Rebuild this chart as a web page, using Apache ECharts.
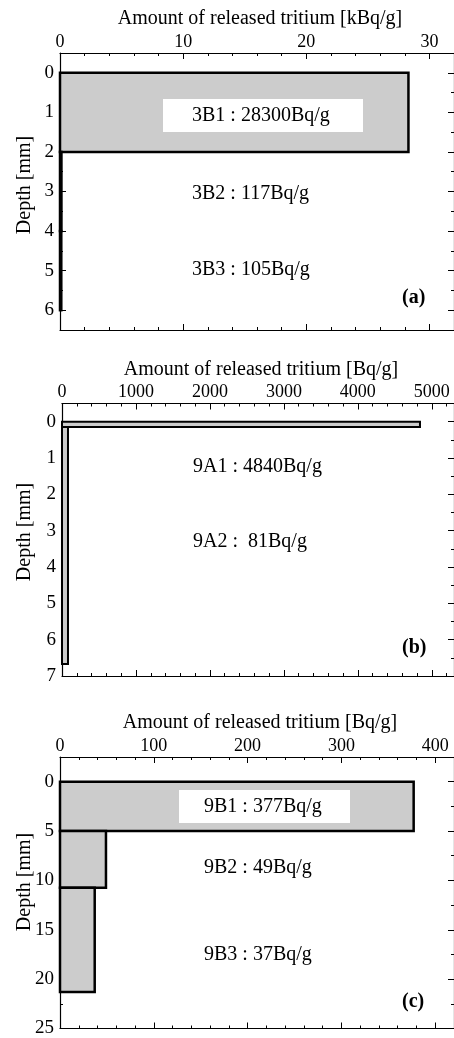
<!DOCTYPE html>
<html>
<head>
<meta charset="utf-8">
<script src="https://cdn.jsdelivr.net/npm/echarts@6/dist/echarts.min.js"></script>
<style>
  html, body { margin: 0; padding: 0; background: #fff; }
  #chart { width: 454px; height: 1038px; }
</style>
</head>
<body>
<div id="chart"></div>
<script>
// ---- Data: released tritium per depth layer ----
// (a) sample 3B, values in kBq/g
const aNames = ['3B1', '3B2', '3B3'];
const aDepthTop = [0, 2, 4];
const aDepthBottom = [2, 4, 6];
const aValues = [28.3, 0.117, 0.105];

// (b) sample 9A, values in Bq/g
const bNames = ['9A1', '9A2'];
const bDepthTop = [0, 0.15];
const bDepthBottom = [0.15, 6.67];
const bValues = [4840, 81];

// (c) sample 9B, values in Bq/g
const cNames = ['9B1', '9B2', '9B3'];
const cDepthTop = [0, 5, 10.75];
const cDepthBottom = [5, 10.75, 21.3];
const cValues = [377, 49, 37];

// Tick values
const aXMajor = [0, 10, 20, 30];
const aXMinor = [2, 4, 6, 8, 12, 14, 16, 18, 22, 24, 26, 28];
const aYMajor = [0, 1, 2, 3, 4, 5, 6];
const aYMinor = [0.5, 1.5, 2.5, 3.5, 4.5, 5.5];

const bXMajor = [0, 1000, 2000, 3000, 4000, 5000];
const bXMinor = [200, 400, 600, 800, 1200, 1400, 1600, 1800, 2200, 2400, 2600, 2800,
                 3200, 3400, 3600, 3800, 4200, 4400, 4600, 4800, 5200];
const bYMajor = [0, 1, 2, 3, 4, 5, 6, 7];
const bYMinor = [0.5, 1.5, 2.5, 3.5, 4.5, 5.5, 6.5];

const cXMajor = [0, 100, 200, 300, 400];
const cXMinor = [20, 40, 60, 80, 120, 140, 160, 180, 220, 240, 260, 280, 320, 340, 360, 380];
const cYMajor = [0, 5, 10, 15, 20, 25];
const cYMinor = [2.5, 7.5, 12.5, 17.5, 22.5];

// ---- Layout & style ----
const FONT = 'Liberation Serif';
const GREY = '#cccccc';

const panels = [
  {
    grid: { left: 60, top: 53, width: 397, height: 277 },
    xRange: [0, 32], yRange: [-0.5, 6.5],
    xMajor: aXMajor, xMinor: aXMinor, yMajor: aYMajor, yMinor: aYMinor,
    xName: 'Amount of released tritium [kBq/g]',
    top: aDepthTop, bottom: aDepthBottom, values: aValues, lw: 2.5,
    labels: aNames.map((n, i) => n + ' : ' + Math.round(aValues[i] * 1000) + 'Bq/g'),
    labelX: 192, labelY: [116, 194, 270],
    box: { x: 163, y: 99, width: 200, height: 33 },
    tag: '(a)', tagY: 298
  },
  {
    grid: { left: 62, top: 403.5, width: 394, height: 272.5 },
    xRange: [0, 5300], yRange: [-0.5, 7],
    xMajor: bXMajor, xMinor: bXMinor, yMajor: bYMajor, yMinor: bYMinor,
    xName: 'Amount of released tritium [Bq/g]',
    top: bDepthTop, bottom: bDepthBottom, values: bValues, lw: 2,
    labels: bNames.map((n, i) => n + ' : ' + (bValues[i] < 100 ? ' ' : '') + bValues[i] + 'Bq/g'),
    labelX: 193, labelY: [467, 542],
    box: null,
    tag: '(b)', tagY: 648
  },
  {
    grid: { left: 60, top: 757, width: 397, height: 276 },
    xRange: [0, 420], yRange: [-2.5, 25],
    xMajor: cXMajor, xMinor: cXMinor, yMajor: cYMajor, yMinor: cYMinor,
    xName: 'Amount of released tritium [Bq/g]',
    top: cDepthTop, bottom: cDepthBottom, values: cValues, lw: 2.5,
    labels: cNames.map((n, i) => n + ' : ' + cValues[i] + 'Bq/g'),
    labelX: 204, labelY: [807, 868, 955],
    box: { x: 179, y: 790, width: 171, height: 33 },
    tag: '(c)', tagY: 1002
  }
];

const grids = [], xAxes = [], yAxes = [], series = [], graphics = [];
const plain = v => String(v);

function axisBase(extra) {
  return Object.assign({
    type: 'value',
    axisLine: { show: true, onZero: false, lineStyle: { color: '#000', width: 1.2 } },
    splitLine: { show: false },
    axisLabel: { show: false },
    axisTick: { show: true, inside: true, lineStyle: { color: '#000', width: 1 } }
  }, extra);
}

panels.forEach((p, gi) => {
  grids.push(Object.assign({ containLabel: false }, p.grid));
  const xBase = xAxes.length;
  const yBase = yAxes.length;

  // top axis with labels and name
  xAxes.push(axisBase({
    gridIndex: gi, position: 'top', min: p.xRange[0], max: p.xRange[1],
    name: p.xName, nameLocation: 'middle', nameGap: 24, nameMoveOverlap: false,
    nameTextStyle: { fontFamily: FONT, fontSize: 20, color: '#000', padding: [0, 0, 0, 6] },
    axisLabel: { show: true, customValues: p.xMajor, formatter: plain,
                 fontFamily: FONT, fontSize: 18, color: '#000', margin: 2 },
    axisTick: { show: true, inside: true, length: 6, customValues: p.xMajor, lineStyle: { color: '#000', width: 1 } }
  }));
  xAxes.push(axisBase({
    gridIndex: gi, position: 'top', min: p.xRange[0], max: p.xRange[1],
    axisLine: { show: false, onZero: false },
    axisTick: { show: true, inside: true, length: 3, customValues: p.xMinor, lineStyle: { color: '#000', width: 1 } }
  }));
  // bottom frame axis
  xAxes.push(axisBase({
    gridIndex: gi, position: 'bottom', min: p.xRange[0], max: p.xRange[1],
    axisTick: { show: true, inside: true, length: 6, customValues: p.xMajor, lineStyle: { color: '#000', width: 1 } }
  }));
  xAxes.push(axisBase({
    gridIndex: gi, position: 'bottom', min: p.xRange[0], max: p.xRange[1],
    axisLine: { show: false, onZero: false },
    axisTick: { show: true, inside: true, length: 3, customValues: p.xMinor, lineStyle: { color: '#000', width: 1 } }
  }));

  // left depth axis with labels
  yAxes.push(axisBase({
    gridIndex: gi, position: 'left', inverse: true, min: p.yRange[0], max: p.yRange[1],
    axisLabel: { show: true, customValues: p.yMajor, formatter: plain,
                 fontFamily: FONT, fontSize: 19, color: '#000', margin: 6 },
    axisTick: { show: true, inside: true, length: 6, customValues: p.yMajor, lineStyle: { color: '#000', width: 1 } }
  }));
  yAxes.push(axisBase({
    gridIndex: gi, position: 'left', inverse: true, min: p.yRange[0], max: p.yRange[1],
    axisLine: { show: false, onZero: false },
    axisTick: { show: true, inside: true, length: 3, customValues: p.yMinor, lineStyle: { color: '#000', width: 1 } }
  }));
  // right frame axis
  yAxes.push(axisBase({
    gridIndex: gi, position: 'right', inverse: true, min: p.yRange[0], max: p.yRange[1],
    axisTick: { show: true, inside: true, length: 6, customValues: p.yMajor, lineStyle: { color: '#000', width: 1 } }
  }));
  yAxes.push(axisBase({
    gridIndex: gi, position: 'right', inverse: true, min: p.yRange[0], max: p.yRange[1],
    axisLine: { show: false, onZero: false },
    axisTick: { show: true, inside: true, length: 3, customValues: p.yMinor, lineStyle: { color: '#000', width: 1 } }
  }));

  // layer bars: each spans [depthTop, depthBottom] from 0 to its value
  const data = p.values.map((v, i) => [p.top[i], p.bottom[i], v]);
  series.push({
    type: 'custom',
    xAxisIndex: xBase,
    yAxisIndex: yBase,
    silent: true,
    z: 3,
    data: data,
    renderItem: (params, api) => {
      const p0 = api.coord([0, api.value(0)]);
      const p1 = api.coord([api.value(2), api.value(1)]);
      return {
        type: 'rect',
        shape: { x: p0[0], y: p0[1], width: p1[0] - p0[0], height: p1[1] - p0[1] },
        style: { fill: GREY, stroke: '#000', lineWidth: p.lw }
      };
    }
  });

  // annotations
  if (p.box) {
    graphics.push({ type: 'rect', z: 100, shape: p.box, style: { fill: '#fff' } });
  }
  p.labels.forEach((t, i) => {
    graphics.push({
      type: 'text', z: 101, x: p.labelX, y: p.labelY[i],
      style: { text: t, font: '20px "' + FONT + '"', fill: '#000', align: 'left', verticalAlign: 'middle',
               textAlign: 'left', textVerticalAlign: 'middle' }
    });
  });
  graphics.push({
    type: 'text', z: 101, x: 402, y: p.tagY,
    style: { text: p.tag, font: 'bold 20px "' + FONT + '"', fill: '#000', align: 'left', verticalAlign: 'middle',
             textAlign: 'left', textVerticalAlign: 'middle' }
  });
});

// rotated depth titles
[[25, 185], [25, 532], [25, 882]].forEach(([x, y]) => {
  graphics.push({
    type: 'text', z: 101, x: x, y: y, rotation: Math.PI / 2,
    style: { text: 'Depth [mm]', font: '20px "' + FONT + '"', fill: '#000', align: 'center', verticalAlign: 'middle',
             textAlign: 'center', textVerticalAlign: 'middle' }
  });
});

const chart = echarts.init(document.getElementById('chart'), null, { renderer: 'canvas' });
chart.setOption({
  animation: false,
  backgroundColor: '#fff',
  textStyle: { fontFamily: FONT },
  grid: grids,
  xAxis: xAxes,
  yAxis: yAxes,
  series: series,
  graphic: { elements: graphics }
});
</script>
</body>
</html>
